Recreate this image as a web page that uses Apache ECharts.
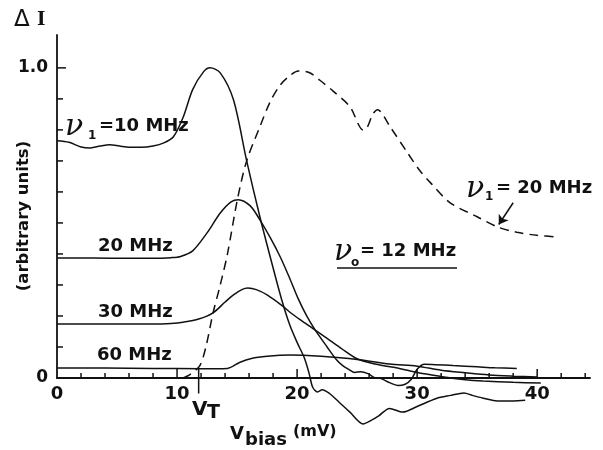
<!DOCTYPE html>
<html><head><meta charset="utf-8">
<script src="https://cdn.jsdelivr.net/npm/echarts@6/dist/echarts.min.js"></script>
<style>html,body{margin:0;padding:0;background:#fff}#c{width:603px;height:450px}</style>
</head><body><div id="c"></div>
<script>
// ---- data ----
const nu10 = [[0,0.765],[1,0.76],[2,0.745],[2.8,0.742],[3.6,0.748],[4.4,0.752],[5.2,0.748],[6,0.744],[7,0.744],[8,0.748],[8.9,0.758],[9.7,0.778],[10.5,0.84],[11.3,0.93],[12.2,0.987],[12.75,1.0],[13.6,0.984],[14.7,0.897],[15.8,0.70],[16.9,0.52],[17.9,0.37],[18.7,0.255],[19.4,0.17],[20.0,0.115],[20.6,0.065],[21.0,0.015],[21.3,-0.03],[21.7,-0.045],[22.1,-0.038],[22.7,-0.05],[23.5,-0.078],[24.4,-0.11],[25.5,-0.148],[26.2,-0.136],[26.8,-0.122],[27.7,-0.098],[28.8,-0.11],[30,-0.092],[31.6,-0.066],[32.8,-0.056],[33.9,-0.048],[34.6,-0.056],[35.5,-0.065],[36.7,-0.074],[38,-0.074],[39,-0.072]];
const nu20 = [[0,0.387],[3,0.387],[6,0.386],[8,0.386],[9.5,0.388],[10.3,0.392],[11.3,0.41],[12.5,0.468],[13.6,0.532],[14.5,0.568],[15.1,0.575],[16.1,0.555],[16.9,0.51],[17.8,0.45],[18.6,0.39],[19.4,0.32],[20.1,0.255],[20.8,0.2],[21.5,0.155],[22.5,0.10],[23.3,0.058],[23.8,0.04],[24.3,0.028],[24.8,0.018],[25.3,0.02],[25.9,0.014],[26.4,0.002],[27,-0.002],[27.7,-0.015],[28.4,-0.024],[29,-0.02],[29.5,-0.005],[30,0.028],[30.6,0.044],[31.5,0.043],[33,0.04],[35,0.036],[36.5,0.033],[38.3,0.031]];
const nu30 = [[0,0.174],[4,0.174],[8,0.174],[9.5,0.176],[10.5,0.18],[11.8,0.19],[13,0.21],[14,0.245],[14.7,0.268],[15.4,0.285],[15.9,0.29],[16.6,0.285],[17.5,0.268],[18.8,0.232],[19.4,0.212],[20.25,0.188],[21.3,0.16],[22.5,0.128],[23.7,0.095],[25,0.062],[26.5,0.045],[28.6,0.03],[30,0.018],[31.5,0.008],[32.75,0.0],[34,-0.006],[35.5,-0.01],[38,-0.014],[40.3,-0.016]];
const nu60 = [[0,0.032],[4,0.032],[8,0.031],[12,0.03],[14.2,0.031],[15.2,0.05],[16.2,0.063],[17.5,0.07],[19.4,0.074],[22,0.07],[25,0.06],[27.7,0.045],[30,0.038],[32,0.025],[34,0.017],[36,0.01],[38,0.006],[40,0.003]];
const dashed20 = [[10.5,0.0],[11.1,0.012],[11.9,0.04],[12.4,0.1],[13,0.21],[13.6,0.3],[14.2,0.4],[15.05,0.58],[15.8,0.70],[16.9,0.81],[17.75,0.89],[18.6,0.945],[19.4,0.975],[20.1,0.99],[21,0.985],[21.9,0.96],[23,0.925],[24.4,0.875],[25.5,0.80],[25.8,0.805],[26.3,0.85],[26.7,0.865],[27.75,0.81],[29.2,0.726],[30.2,0.67],[31.1,0.63],[32.75,0.565],[35,0.52],[36.7,0.487],[38.3,0.47],[40,0.46],[41.7,0.455]];
const VT = 11.8;
const vtTick = [[VT, 0.03], [VT, -0.05]];
const arrowFrom = [38.0, 0.565];
const arrowTo = [36.8, 0.495];
const xLabels = [0, 10, 20, 30, 40];
const yLabels = [0, 1.0];
const xTicks = [2,4,6,8,10,12,14,16,18,20,22,24,26,28,30,32,34,36,38,40,42,44];
const xMajor = [10,20,30,40];
const yTicks = [0.1,0.2,0.3,0.4,0.5,0.6,0.7,0.8,0.9,1.0];
const yMajor = [1.0];

// ---- chart ----
const INK = '#111';
const FF = '"DejaVu Sans", sans-serif';
const chart = echarts.init(document.getElementById('c'), null, {renderer: 'canvas'});

function lineSeries(data, dashed, smooth) {
  return {
    type: 'line', data: data, smooth: smooth === undefined ? 0.3 : smooth, symbol: 'none', clip: false, silent: true,
    lineStyle: {color: INK, width: 1.5, type: dashed ? [9, 6] : 'solid'}, z: 3
  };
}
function t(x, y, text, font, extra) {
  return Object.assign({type: 'text', x: x, y: y, silent: true,
    style: {text: text, font: font, fill: INK, textAlign: 'left', textVerticalAlign: 'middle', verticalAlign: 'middle'}}, extra || {});
}
const B18 = 'bold 18px ' + FF;
const B12 = 'bold 12px ' + FF;
const NU = 'italic 30px "DejaVu Serif", serif';

const sd = lineSeries(dashed20, true);
sd.markLine = {silent: true, symbol: ['none', 'arrow'], symbolSize: 9, label: {show: false}, animation: false,
  lineStyle: {color: INK, width: 1.5, type: 'solid'},
  data: [[{coord: arrowFrom}, {coord: arrowTo}]]};

const option = {
  animation: false,
  backgroundColor: '#fff',
  grid: {left: 57, right: 13, top: 35, bottom: 72, containLabel: false, outerBoundsMode: 'none'},
  xAxis: {type: 'value', min: 0, max: 44.4, interval: 10,
    axisLine: {show: true, onZero: false, lineStyle: {color: INK, width: 1.8}},
    axisTick: {show: false}, splitLine: {show: false},
    axisLabel: {margin: 7, color: INK, fontFamily: FF, fontWeight: 'bold', fontSize: 18,
      formatter: v => xLabels.includes(v) ? String(v) : ''}},
  yAxis: {type: 'value', min: 0, max: 1.106, interval: 0.5,
    axisLine: {show: true, onZero: false, lineStyle: {color: INK, width: 1.8}},
    axisTick: {show: false}, splitLine: {show: false},
    axisLabel: {margin: 9, color: INK, fontFamily: FF, fontWeight: 'bold', fontSize: 17,
      formatter: v => yLabels.includes(v) ? (v === 0 ? '0' : v.toFixed(1)) : ''}},
  series: [
    lineSeries(nu10, false), lineSeries(nu20, false), lineSeries(nu30, false), lineSeries(nu60, false), sd,
    lineSeries(vtTick, false, false),
    {type: 'custom', silent: true, clip: false, z: 4, data: xTicks.map(v => [v, 0]),
      renderItem: (params, api) => {
        const v = api.value(0); const p = api.coord([v, 0]);
        const len = xMajor.includes(v) ? 9 : 5;
        return {type: 'line', shape: {x1: p[0], y1: p[1], x2: p[0], y2: p[1] - len}, style: {stroke: INK, lineWidth: 1.5}};
      }},
    {type: 'custom', silent: true, clip: false, z: 4, data: yTicks.map(v => [0, v]),
      renderItem: (params, api) => {
        const v = api.value(1); const p = api.coord([0, v]);
        const len = yMajor.includes(v) ? 9 : 6;
        return {type: 'line', shape: {x1: p[0], y1: p[1], x2: p[0] + len, y2: p[1]}, style: {stroke: INK, lineWidth: 1.5}};
      }}
  ],
  graphic: [
    t(14, 20, 'Δ', '23px ' + FF),
    t(37, 20, 'I', 'bold 18px "DejaVu Serif", serif'),
    t(24, 216, '(arbitrary units)', 'bold 16.5px ' + FF, {rotation: Math.PI / 2, style: {text: '(arbitrary units)', font: 'bold 16.5px ' + FF, fill: INK, textAlign: 'center', textVerticalAlign: 'middle', verticalAlign: 'middle'}}),
    t(65, 127, 'ν', NU), t(88, 136, '1', B12), t(99, 126, '=10 MHz', B18),
    t(98, 246, '20 MHz', B18), t(98, 312, '30 MHz', B18), t(97, 355, '60 MHz', B18),
    t(466, 189, 'ν', NU), t(485, 197, '1', B12), t(496, 188, '= 20 MHz', B18),
    t(334, 252, 'ν', NU), t(351, 263, 'o', B12), t(360, 251, '= 12 MHz', B18),
    {type: 'line', silent: true, shape: {x1: 337, y1: 268, x2: 457, y2: 268}, style: {stroke: INK, lineWidth: 1.5}},
    t(192, 410, 'V', 'bold 20px ' + FF), t(207, 413, 'T', 'bold 19px ' + FF),
    t(230, 434, 'V', 'bold 18px ' + FF), t(245, 440, 'bias', 'bold 18px ' + FF), t(293, 432, '(mV)', 'bold 16px ' + FF)
  ]
};
chart.setOption(option);
</script></body></html>
